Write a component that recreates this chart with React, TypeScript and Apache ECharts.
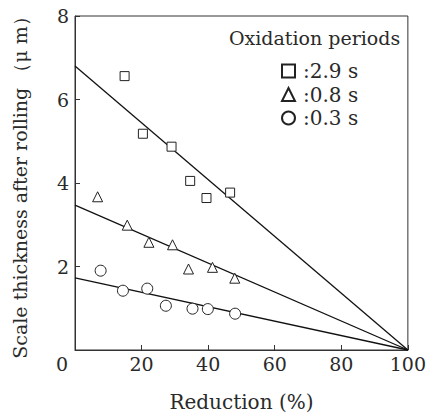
import React, { useEffect, useRef } from "react";
import * as echarts from "echarts";

const seriesNames = ["2.9 s", "0.8 s", "0.3 s"];
const symbols = ["rect", "triangle", "circle"];
const symbolSizes = [9, 10, 11];

const sq: number[][] = [
  [14.9, 6.56],
  [20.4, 5.18],
  [29.0, 4.87],
  [34.6, 4.05],
  [39.5, 3.64],
  [46.6, 3.77],
];
const tri: number[][] = [
  [6.8, 3.67],
  [15.7, 2.99],
  [22.2, 2.58],
  [29.3, 2.52],
  [34.1, 1.94],
  [41.3, 1.98],
  [48.0, 1.72],
];
const circ: number[][] = [
  [7.7, 1.9],
  [14.4, 1.42],
  [21.7, 1.47],
  [27.3, 1.06],
  [35.3, 0.99],
  [39.9, 0.98],
  [48.1, 0.87],
];
const fitLines: number[][][] = [
  [[0, 6.8], [100, 0]],
  [[0, 3.47], [100, 0]],
  [[0, 1.73], [100, 0]],
];

const FONT = "'DejaVu Serif', serif";

export default function App() {
  const ref = useRef<HTMLDivElement>(null);
  useEffect(() => {
    if (!ref.current) return;
    const chart = echarts.init(ref.current, null, { renderer: "svg" });
    const pts = [sq, tri, circ];
    const series: any[] = [];
    fitLines.forEach((d, i) => {
      series.push({
        type: "line",
        name: "fit" + i,
        data: d,
        symbol: "none",
        lineStyle: { color: "#111", width: 1.3 },
        z: 2,
      });
    });
    pts.forEach((d, i) => {
      series.push({
        type: "scatter",
        name: seriesNames[i],
        data: d,
        symbol: symbols[i],
        symbolSize: symbolSizes[i],
        itemStyle: { color: "#fff", borderColor: "#222", borderWidth: 1, opacity: 1 },
        z: 3,
      });
    });
    chart.setOption({
      animation: false,
      backgroundColor: "#fff",
      textStyle: { fontFamily: FONT, color: "#2a2a2a" },
      grid: {
        left: 75,
        right: 19,
        top: 16,
        bottom: 65,
        show: true,
        borderColor: "#333",
        borderWidth: 1,
      },
      title: {
        text: "Oxidation periods",
        left: 229,
        top: 28,
        padding: 0,
        textStyle: { fontFamily: FONT, fontSize: 19, lineHeight: 20, fontWeight: "normal", color: "#2a2a2a" },
      },
      legend: {
        data: seriesNames,
        orient: "vertical",
        left: 281,
        top: 61,
        padding: 0,
        itemWidth: 13,
        itemHeight: 13,
        itemGap: 3.5,
        formatter: ":{name}",
        textStyle: { fontFamily: FONT, fontSize: 20, lineHeight: 20, color: "#2a2a2a", padding: [0, 0, 0, 3] },
      },
      xAxis: {
        type: "value",
        min: 0,
        max: 100,
        interval: 20,
        name: "Reduction (%)",
        nameLocation: "middle",
        nameGap: 42,
        nameTextStyle: { fontFamily: FONT, fontSize: 20, color: "#2a2a2a" },
        axisLine: { lineStyle: { color: "#333", width: 1 } },
        axisTick: { inside: true, length: 5, lineStyle: { color: "#333" } },
        splitLine: { show: false },
        axisLabel: {
          fontFamily: FONT,
          fontSize: 19,
          color: "#2a2a2a",
          margin: 4,
          formatter: (v: number) => (v === 0 ? "{z|0}" : String(v)),
          rich: { z: { fontFamily: FONT, fontSize: 19, color: "#2a2a2a", padding: [0, 26, 0, 0] } },
        },
      },
      yAxis: {
        type: "value",
        min: 0,
        max: 8,
        interval: 2,
        name: "Scale thickness after rolling （μ m）",
        nameLocation: "middle",
        nameRotate: 90,
        nameGap: 46,
        nameTextStyle: { fontFamily: FONT, fontSize: 19, color: "#2a2a2a" },
        axisLine: { lineStyle: { color: "#333", width: 1 } },
        axisTick: { inside: true, length: 5, lineStyle: { color: "#333" } },
        splitLine: { show: false },
        axisLabel: {
          fontFamily: FONT,
          fontSize: 19,
          color: "#2a2a2a",
          margin: 6,
          formatter: (v: number) => (v === 0 ? "" : String(v)),
        },
      },
      series,
    });
    return () => chart.dispose();
  }, []);
  return (
    <div
      ref={ref}
      style={{ position: "fixed", left: 0, top: 0, width: 429, height: 417 }}
    />
  );
}
